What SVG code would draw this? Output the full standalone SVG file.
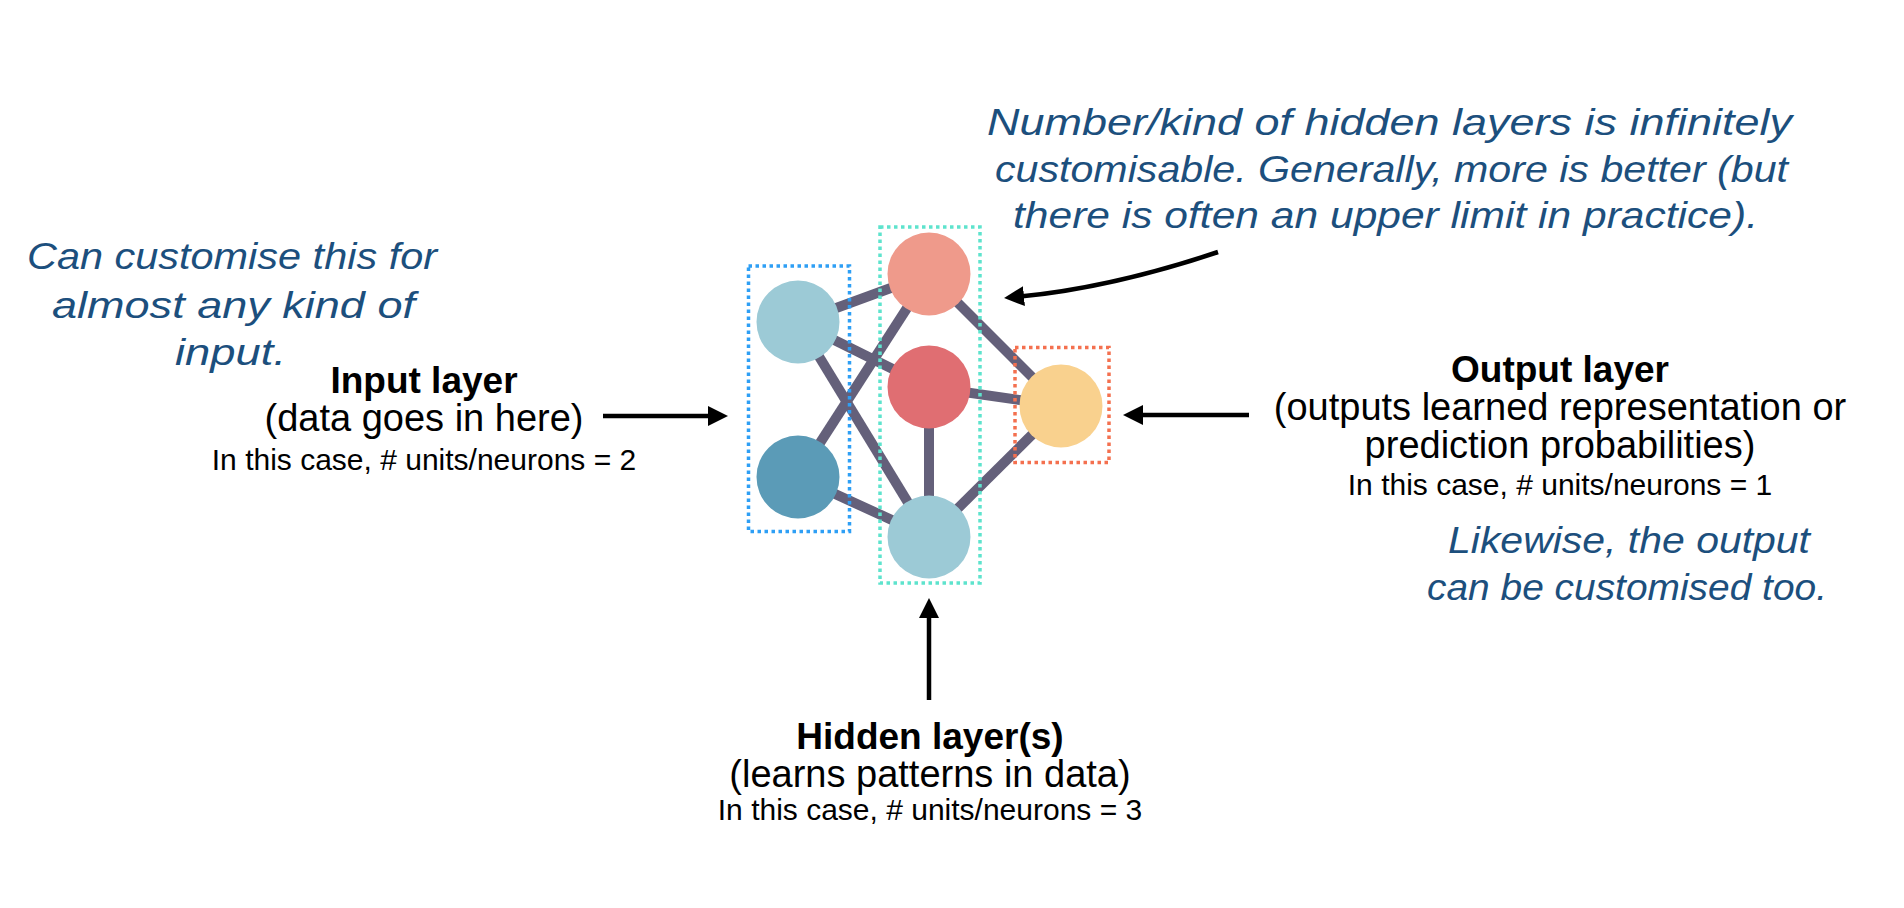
<svg xmlns="http://www.w3.org/2000/svg" width="1904" height="908" viewBox="0 0 1904 908">
  <style>
    .edge { stroke: #64607a; stroke-width: 10; fill: none; }
    .box { fill: none; stroke-width: 3.5; stroke-dasharray: 3.5 3.5; }
    .arrow { stroke: #000; stroke-width: 4.5; fill: none; }
    .title { font-family: "Liberation Sans", Arial, sans-serif; font-weight: bold; font-size: 37px; fill: #000; text-anchor: middle; }
    .sub { font-family: "Liberation Sans", Arial, sans-serif; font-size: 38px; fill: #000; text-anchor: middle; }
    .small { font-family: "Liberation Sans", Arial, sans-serif; font-size: 30px; fill: #000; text-anchor: middle; }
    .hand { font-family: "Liberation Sans", Arial, sans-serif; font-style: italic; font-size: 36px; fill: #1c4f7d; }
  </style>
  <defs>
    <marker id="head" markerUnits="userSpaceOnUse" markerWidth="22" markerHeight="22" refX="4" refY="10" orient="auto">
      <path d="M0,0 L20,10 L0,20 Z" fill="#000"/>
    </marker>
  </defs>
  <rect width="1904" height="908" fill="#fff"/>

  <g id="connectors">
    <line class="edge" x1="798" y1="322" x2="929" y2="274"/>
    <line class="edge" x1="798" y1="322" x2="929" y2="387"/>
    <line class="edge" x1="798" y1="322" x2="929" y2="537"/>
    <line class="edge" x1="798" y1="477" x2="929" y2="274"/>
    <line class="edge" x1="798" y1="477" x2="929" y2="537"/>
    <line class="edge" x1="929" y1="274" x2="1061" y2="406"/>
    <line class="edge" x1="929" y1="387" x2="1061" y2="406"/>
    <line class="edge" x1="929" y1="387" x2="929" y2="537"/>
    <line class="edge" x1="929" y1="537" x2="1061" y2="406"/>
  </g>

  <g id="layer-boxes">
    <rect class="box" x="748.5" y="266" width="101" height="265.5" stroke="#2e9ff5"/>
    <rect class="box" x="880" y="227" width="100" height="356" stroke="#5ee3cd"/>
    <rect class="box" x="1015" y="347.5" width="94" height="115" stroke="#f4704f"/>
  </g>

  <g id="input-1"><circle cx="798" cy="322" r="41.5" fill="#9ccad6"/></g>
  <g id="input-2"><circle cx="798" cy="477" r="41.5" fill="#5b9bb7"/></g>
  <g id="hidden-1"><circle cx="929" cy="274" r="41.5" fill="#ef9a8b"/></g>
  <g id="hidden-2"><circle cx="929" cy="387" r="41.5" fill="#e06e72"/></g>
  <g id="hidden-3"><circle cx="929" cy="537" r="41.5" fill="#9ccad6"/></g>
  <g id="output-1"><circle cx="1061" cy="406" r="41.5" fill="#f9d18e"/></g>

  <g id="arrows">
    <line class="arrow" x1="603" y1="416" x2="712" y2="416" marker-end="url(#head)"/>
    <line class="arrow" x1="1249" y1="415" x2="1139" y2="415" marker-end="url(#head)"/>
    <line class="arrow" x1="929" y1="700" x2="929" y2="614" marker-end="url(#head)"/>
    <path class="arrow" d="M1218,252 Q1111,287.75 1020,296.5" marker-end="url(#head)"/>
  </g>

  <g id="input-label">
    <text class="title" x="424" y="393">Input layer</text>
    <text class="sub" x="424" y="431">(data goes in here)</text>
    <text class="small" x="424" y="470">In this case, # units/neurons = 2</text>
  </g>

  <g id="hidden-label">
    <text class="title" x="930" y="749">Hidden layer(s)</text>
    <text class="sub" x="930" y="787">(learns patterns in data)</text>
    <text class="small" x="930" y="820">In this case, # units/neurons = 3</text>
  </g>

  <g id="output-label">
    <text class="title" x="1560" y="382">Output layer</text>
    <text class="sub" x="1560" y="420">(outputs learned representation or</text>
    <text class="sub" x="1560" y="458">prediction probabilities)</text>
    <text class="small" x="1560" y="495">In this case, # units/neurons = 1</text>
  </g>

  <g id="note-hidden">
    <text class="hand" x="987" y="135" textLength="805" lengthAdjust="spacingAndGlyphs">Number/kind of hidden layers is infinitely</text>
    <text class="hand" x="995" y="182" textLength="793" lengthAdjust="spacingAndGlyphs">customisable. Generally, more is better (but</text>
    <text class="hand" x="1013" y="228" textLength="745" lengthAdjust="spacingAndGlyphs">there is often an upper limit in practice).</text>
  </g>

  <g id="note-input">
    <text class="hand" x="27" y="269" textLength="410" lengthAdjust="spacingAndGlyphs">Can customise this for</text>
    <text class="hand" x="52" y="318" textLength="363" lengthAdjust="spacingAndGlyphs">almost any kind of</text>
    <text class="hand" x="175" y="365" textLength="111" lengthAdjust="spacingAndGlyphs">input.</text>
  </g>

  <g id="note-output">
    <text class="hand" x="1448" y="553" textLength="362" lengthAdjust="spacingAndGlyphs">Likewise, the output</text>
    <text class="hand" x="1427" y="600" textLength="400" lengthAdjust="spacingAndGlyphs">can be customised too.</text>
  </g>
</svg>
